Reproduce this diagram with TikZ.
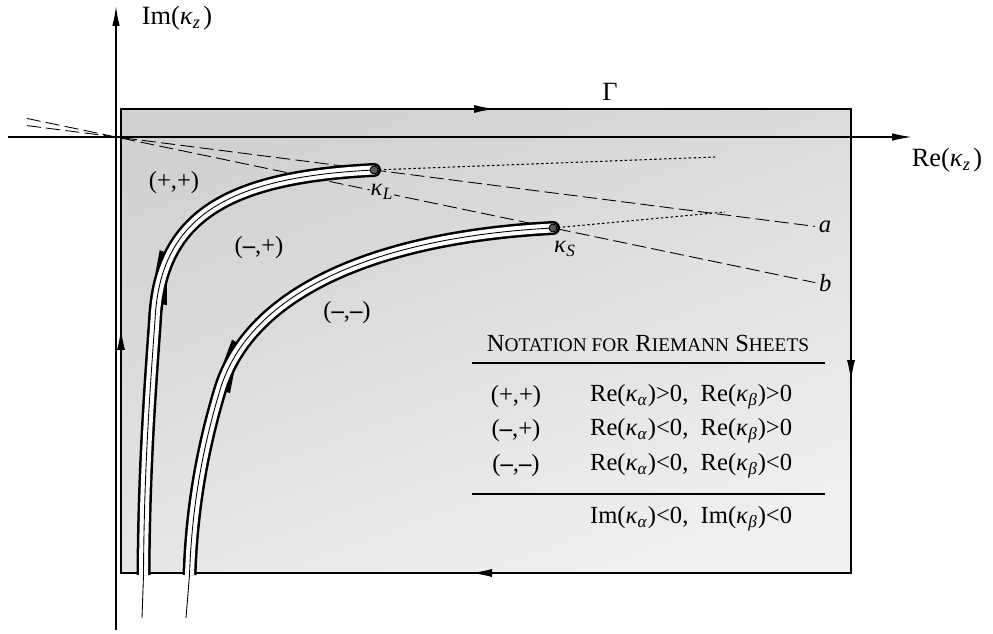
\documentclass[tikz,border=0pt]{standalone}
\usepackage{amsmath,amssymb}
\usepackage{fontspec}
\setmainfont{Liberation Serif}
\usetikzlibrary{arrows.meta,positioning,calc,decorations.markings}

\newcommand{\mns}{{\bfseries\textendash}}
\newcommand{\kap}[1]{\textit{κ}\textsubscript{\textit{#1}}}
\newcommand{\smc}[2]{#1{\fontsize{11}{12}\selectfont #2}}
\newcommand{\cutL}{(kL) .. controls (230,177) and (160,215) .. (155,320) .. controls (150,390) and (144,470) .. (143.5,575)}
\newcommand{\cutS}{(kS) .. controls (380,237) and (250,290) .. (220,390) .. controls (205,440) and (192,500) .. (189.5,575)}

\tikzset{
  axis/.style={line width=0.8pt,-{Latex[length=4mm,width=1.5mm]}},
  contour/.style={line width=1.1pt},
  flow/.style={line width=1.1pt,-{Latex[length=4.4mm,width=1.6mm]}},
  cutedge/.style={line width=0.28cm,line cap=butt},
  cutgap/.style={white,line width=0.18cm,line cap=butt},
  cutline/.style={line width=0.5pt},
  ray/.style={line width=0.5pt,dash pattern=on 8pt off 3pt},
  dotray/.style={line width=0.6pt,dash pattern=on 1.4pt off 1.4pt},
  bpoint/.style={circle,draw=black,fill=black!65,inner sep=0pt,minimum size=0.16cm,line width=0.5pt},
  lbl/.style={font=\fontsize{14}{16}\selectfont,inner sep=1pt},
  axlbl/.style={font=\fontsize{15}{17}\selectfont,inner sep=1pt},
  rule/.style={line width=0.9pt},
  downmark/.style={postaction={decorate,decoration={markings,mark=at position #1 with {\fill (-0.24cm,-0.13cm) -- (-0.24cm,-0.22cm) -- (0.24cm,-0.13cm) -- cycle;}}}},
  upmark/.style={postaction={decorate,decoration={markings,mark=at position #1 with {\fill (0.24cm,0.13cm) -- (0.24cm,0.22cm) -- (-0.24cm,0.13cm) -- cycle;}}}},
}

\begin{document}
\begin{tikzpicture}[x=0.02cm,y=-0.02cm]
  \useasboundingbox (0,0) rectangle (993,634);
  \coordinate (O) at (116,137);
  \coordinate (kL) at (374,170);
  \coordinate (kS) at (553,228);
  \coordinate (xlo) at (8,137);
  \coordinate (xhi) at (912,137);
  \coordinate (ylo) at (116,630);
  \coordinate (yhi) at (116,6);

  % sheet region
  \shade[top color=black!18,bottom color=black!6,shading angle=20] (121,109) rectangle (851,573);

  % rays through the branch points
  \draw[ray] ($(O)!-0.345!(kL)$) -- ($(O)!2.709!(kL)$) coordinate (aEnd);
  \draw[ray] ($(O)!-0.204!(kS)$) -- ($(O)!1.6!(kS)$) coordinate (bEnd);
  \draw[dotray] (kL) -- (715,157);
  \draw[dotray] (kS) -- (725,212);

  \draw[axis] (xlo) -- (xhi);
  \draw[axis] (ylo) -- (yhi);
  \draw[contour] (121,109) rectangle (851,573);

  % branch cuts with the contour around them
  \draw[cutedge] \cutL;
  \fill (kL) circle[radius=0.14cm];
  \draw[cutedge] \cutS;
  \fill (kS) circle[radius=0.14cm];
  \draw[cutgap] \cutL;
  \fill[white] (kL) circle[radius=0.09cm];
  \draw[cutgap] \cutS;
  \fill[white] (kS) circle[radius=0.09cm];
  \draw[cutline,downmark=4.86cm,upmark=5.4cm] \cutL -- (142,618);
  \draw[cutline,downmark=7.1cm,upmark=7.6cm] \cutS -- (186,618);
  \node[bpoint] (ptL) at (kL) {};
  \node[bpoint] (ptS) at (kS) {};

  \draw[flow] (470,109) -- (496,109);
  \draw[flow] (851,355) -- (851,382);
  \draw[flow] (495,573) -- (470,573);
  \draw[flow] (121,352) -- (121,328);

  \node[axlbl] (imlab) at (177,18) {Im(\kap{z}\kern1.5pt)};
  \node[axlbl] (relab) at (947,160) {Re(\kap{z}\kern1.5pt)};
  \node[axlbl] (gam) at (610,92) {Γ};
  \node[lbl,fill=black!16,inner sep=0.5pt] (labL) at (382,192) {\kap{L}};
  \node[lbl] (labS) at (565,249) {\kap{S}};
  \node[lbl,right=1pt of aEnd] (alab) {\textit{a}};
  \node[lbl,right=1pt of bEnd] (blab) {\textit{b}};
  \node[lbl] (pp) at (174,183) {(+,+)};
  \node[lbl] (mp) at (259,248) {(\mns,+)};
  \node[lbl] (mm) at (347,313) {(\mns,\mns)};

  % notation table
  \node[lbl] (ttl) at (648,343) {\smc{N}{OTATION FOR} \smc{R}{IEMANN} \smc{S}{HEETS}};
  \coordinate (h1a) at (472,363);
  \coordinate (h1b) at (825,363);
  \coordinate (h2a) at (472,494);
  \coordinate (h2b) at (825,494);
  \draw[rule] (h1a) -- (h1b);
  \draw[rule] (h2a) -- (h2b);
  \node[lbl] (s1) at (516,397) {(+,+)};
  \node[lbl] (s2) at (516,431) {(\mns,+)};
  \node[lbl] (s3) at (516,466) {(\mns,\mns)};
  \node[lbl,anchor=west] (c1) at (588,397) {Re(\kap{α})>0,\ \ Re(\kap{β})>0};
  \node[lbl,anchor=west] (c2) at (588,431) {Re(\kap{α})<0,\ \ Re(\kap{β})>0};
  \node[lbl,anchor=west] (c3) at (588,466) {Re(\kap{α})<0,\ \ Re(\kap{β})<0};
  \node[lbl,anchor=west] (c4) at (588,519) {Im(\kap{α})<0,\ \ Im(\kap{β})<0};
\end{tikzpicture}
\end{document}
